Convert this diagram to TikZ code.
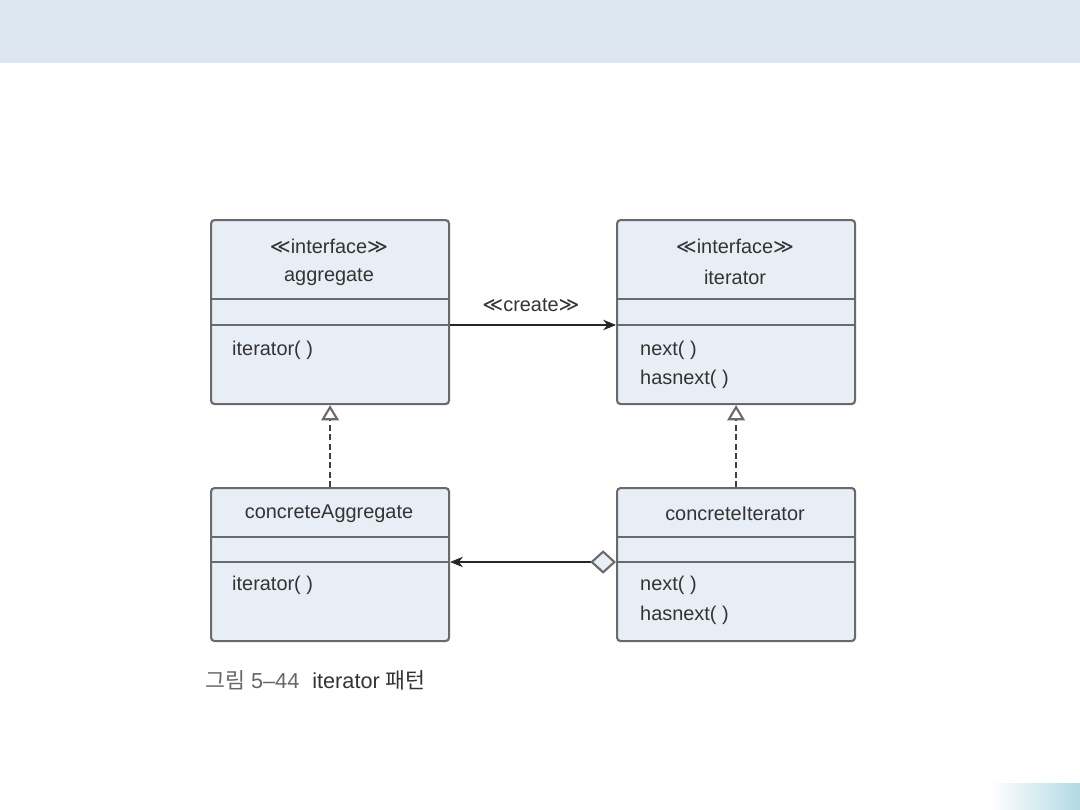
\documentclass[tikz,border=0pt]{standalone}
\usepackage{fontspec}
\setmainfont{Liberation Sans}
\newfontfamily\krfont{Noto Sans CJK KR}
\newfontfamily\dvfont{DejaVu Sans}
\usetikzlibrary{arrows.meta,calc}
\definecolor{headerbg}{HTML}{DCE6F1}
\definecolor{boxfill}{HTML}{E8EEF5}
\definecolor{boxline}{HTML}{6A6A6A}
\definecolor{txt}{HTML}{333333}
\definecolor{capgray}{HTML}{666666}
\definecolor{tealc}{HTML}{B3DAE4}
\newcommand{\stl}{{\dvfont\char"226A}}
\newcommand{\stg}{{\dvfont\char"226B}}
\tikzset{
  classbox/.style={draw=boxline, fill=boxfill, line width=1.8pt, rounded corners=3pt,
    minimum width=7.14cm, inner sep=0pt, anchor=north west},
  divider/.style={draw=boxline, line width=1.8pt},
  lbl/.style={text=txt, font=\fontsize{17}{20}\selectfont, inner sep=0pt},
  method/.style={lbl, anchor=west},
  conn/.style={draw=black!85, line width=0.9pt},
  realize/.style={draw=black!75, line width=1pt, dash pattern=on 5pt off 3pt},
  tri/.style={-{Triangle[open,length=13pt,width=15pt,line width=1.8pt,fill=white,color=boxline]}},
}
\begin{document}
\begin{tikzpicture}[x=0.03cm,y=-0.03cm]
\fill[white] (0,0) rectangle (1080,810);
\useasboundingbox (0,0) rectangle (1080,810);
\fill[headerbg] (0,0) rectangle (1080,63);
\shade[left color=white, right color=tealc] (990,783) rectangle (1080,810);

% classes
\node[classbox, minimum height=5.52cm] (agg) at (210,219) {};
\node[classbox, minimum height=5.52cm] (itf) at (616,219) {};
\node[classbox, minimum height=4.59cm] (cagg) at (210,487) {};
\node[classbox, minimum height=4.59cm] (cit) at (616,487) {};

\coordinate (d1) at (0,299);
\coordinate (d2) at (0,325);
\coordinate (d3) at (0,537);
\coordinate (d4) at (0,562);
\foreach \n in {agg,itf}{
  \draw[divider] (\n.west |- d1) -- (\n.east |- d1);
  \draw[divider] (\n.west |- d2) -- (\n.east |- d2);
}
\foreach \n in {cagg,cit}{
  \draw[divider] (\n.west |- d3) -- (\n.east |- d3);
  \draw[divider] (\n.west |- d4) -- (\n.east |- d4);
}

% texts
\node[lbl] (aggst) at (329,246) {\stl interface\stg};
\node[lbl] (aggname) at (329,277) {aggregate};
\node[method] (aggm) at (232,350) {iterator( )};

\node[lbl] (itfst) at (735,246) {\stl interface\stg};
\node[lbl] (itfname) at (735,277) {iterator};
\node[method] (itfm1) at (640,350) {next( )};
\node[method] (itfm2) at (640,379) {hasnext( )};

\node[lbl] (caggname) at (329,514) {concreteAggregate};
\node[method] (caggm) at (232,585) {iterator( )};

\node[lbl] (citname) at (735,514) {concreteIterator};
\node[method] (citm1) at (640,585) {next( )};
\node[method] (citm2) at (640,615) {hasnext( )};

% connectors
\draw[conn, -{Stealth[length=11pt,width=9pt]}] (agg.east |- d2) -- (itf.west |- d2);
\node[lbl] (create) at (531,305) {\stl create\stg};

\draw[realize, tri] (cagg.north) -- (agg.south);
\draw[realize, tri] (cit.north) -- (itf.south);

\draw[conn, {Diamond[length=22pt,width=20pt,line width=1.8pt,fill=boxfill,color=boxline]}-{Stealth[length=11pt,width=9pt]}]
  (cit.west |- d4) -- (cagg.east |- d4);

% caption
\node[anchor=west, inner sep=0pt, font=\fontsize{18.5}{22}\selectfont] (cap) at (205,680)
  {\textcolor{capgray}{{\krfont 그림} 5--44}\hspace{0.6em}\textcolor{txt}{iterator {\krfont 패턴}}};
\end{tikzpicture}
\end{document}
